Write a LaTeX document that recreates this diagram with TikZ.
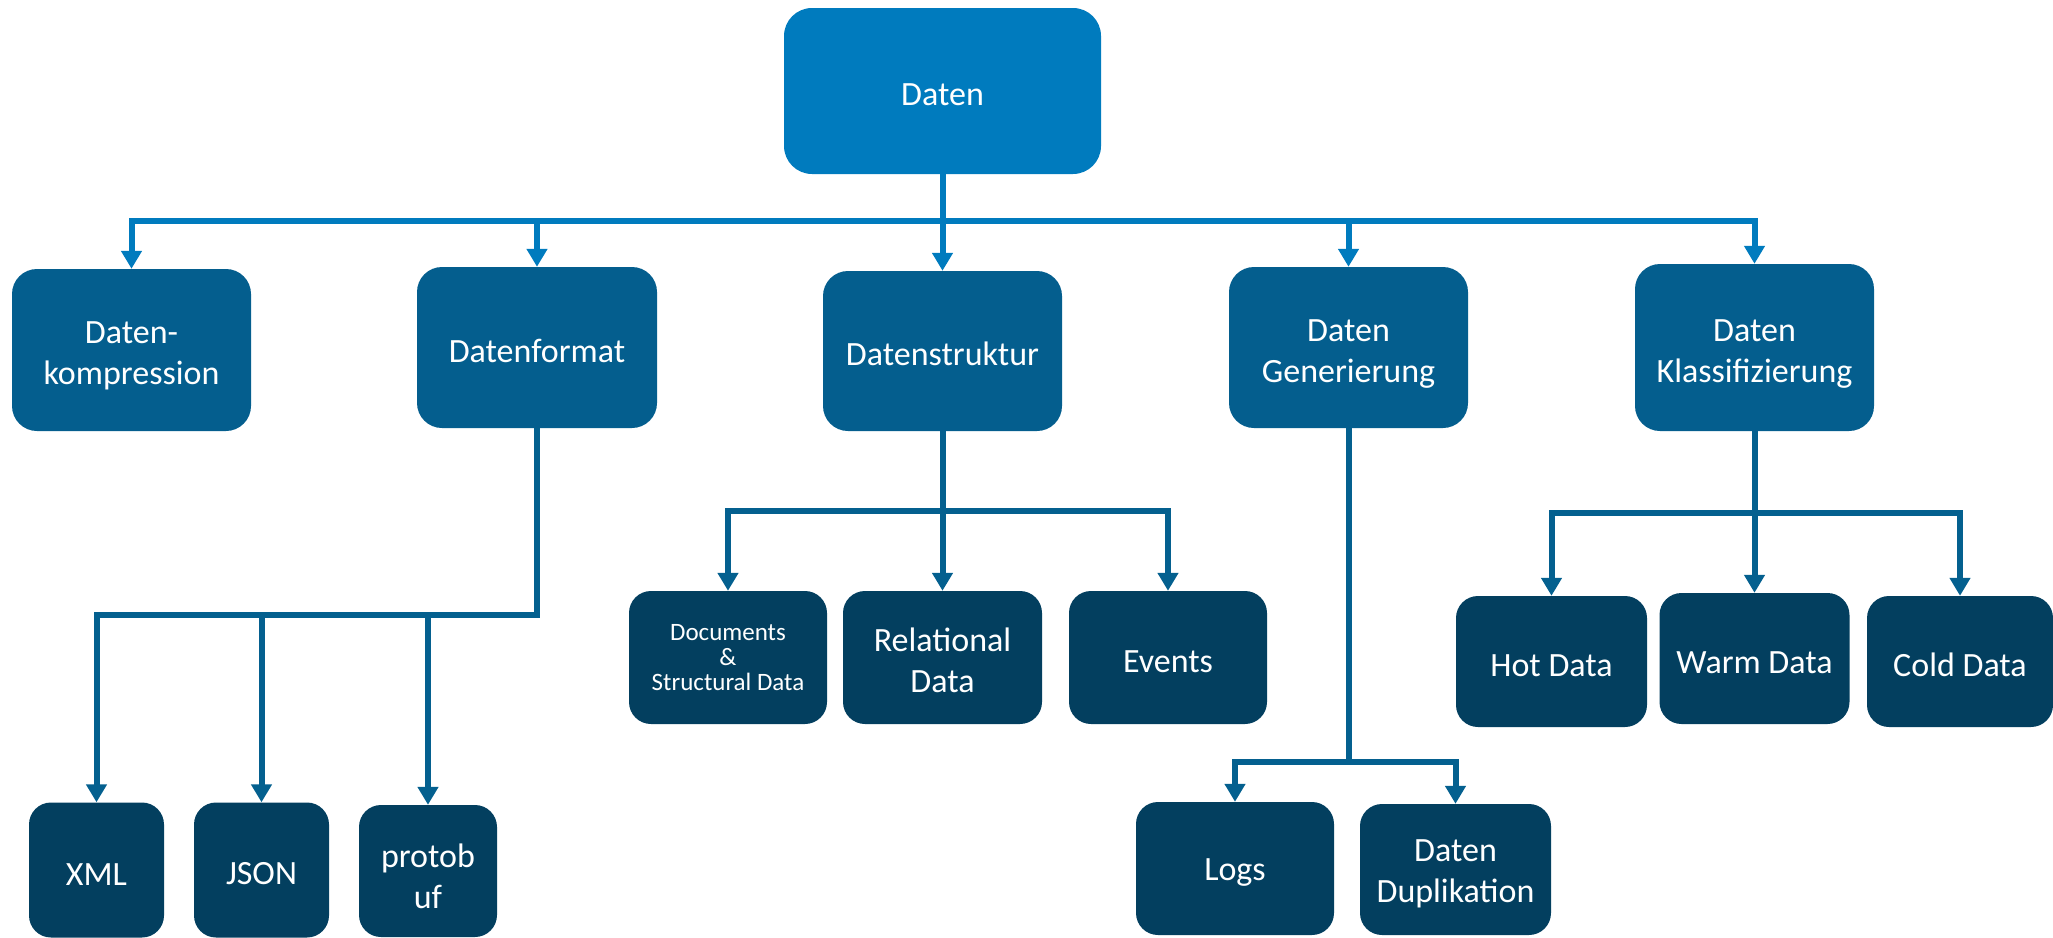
\documentclass[tikz,border=0pt]{standalone}
\usepackage{fontspec}
\setmainfont{Carlito}
\usetikzlibrary{arrows.meta}
\definecolor{rootblue}{RGB}{0,123,190}
\definecolor{midblue}{RGB}{4,94,142}
\definecolor{deepblue}{RGB}{3,63,95}
\definecolor{linkblue}{RGB}{4,96,143}
% tall invisible struts on the first line: set the text a little below the box centre
\newcommand{\toppad}{\rule{0pt}{34pt}}
\newcommand{\onepad}{\rule{0pt}{30pt}}
\tikzset{
  base/.style={rounded corners=22pt, text=white, align=center, inner sep=0pt,
    font=\fontsize{34}{41}\selectfont},
  rootbox/.style={base, fill=rootblue, rounded corners=28pt},
  midbox/.style={base, fill=midblue, rounded corners=25pt},
  leafbox/.style={base, fill=deepblue},
  topconn/.style={draw=rootblue, line width=6pt, line join=miter,
    -{Triangle[length=18pt,width=20pt]}},
  subconn/.style={draw=linkblue, line width=6pt, line join=miter,
    -{Triangle[length=18pt,width=20pt]}},
}
\begin{document}
\begin{tikzpicture}[x=1pt,y=-1pt]
\useasboundingbox (0,0) rectangle (2053,937);

% top level
\node[rootbox, minimum width=317pt, minimum height=166pt] (root) at (942.5,91) {\onepad Daten};

% second level
\node[midbox, minimum width=239pt, minimum height=162pt] (komp) at (131.5,350) {\toppad Daten-\\kompression};
\node[midbox, minimum width=240pt, minimum height=161pt] (format) at (537,347.5) {\onepad Datenformat};
\node[midbox, minimum width=239pt, minimum height=160pt] (struktur) at (942.5,351) {\onepad Datenstruktur};
\node[midbox, minimum width=239pt, minimum height=161pt] (gen) at (1348.5,347.5) {\toppad Daten\\Generierung};
\node[midbox, minimum width=239pt, minimum height=167pt] (klass) at (1754.5,347.5) {\toppad Daten\\Klassifizierung};

% third level
\node[leafbox, minimum width=135pt, minimum height=135pt] (xml) at (96.5,870) {\onepad XML};
\node[leafbox, minimum width=135pt, minimum height=135pt] (json) at (261.5,870) {\onepad JSON};
\node[leafbox, minimum width=138pt, minimum height=132pt] (proto) at (428,871) {\toppad protob\\uf};
\node[leafbox, minimum width=198pt, minimum height=133pt,
  font=\fontsize{25}{25}\selectfont] (docs) at (728,657.5) {Documents\\\&\\Structural Data};
\node[leafbox, minimum width=199pt, minimum height=133pt] (rel) at (942.5,657.5) {\onepad Relational\\Data};
\node[leafbox, minimum width=198pt, minimum height=133pt] (events) at (1168,657.5) {\onepad Events};
\node[leafbox, minimum width=198pt, minimum height=133pt] (logs) at (1235,868.5) {\onepad Logs};
\node[leafbox, minimum width=191pt, minimum height=131pt] (dup) at (1455.5,869.5) {\onepad Daten\\Duplikation};
\node[leafbox, minimum width=191pt, minimum height=131pt] (hot) at (1551.5,661.5) {\onepad Hot Data};
\node[leafbox, minimum width=190pt, minimum height=131pt] (warm) at (1754.5,658.5) {\onepad Warm Data};
\node[leafbox, minimum width=186pt, minimum height=131pt] (cold) at (1960,661.5) {\onepad Cold Data};

% bus heights
\coordinate (bustop) at (0,221);
\coordinate (busformat) at (0,615);
\coordinate (busstruktur) at (0,511);
\coordinate (busgen) at (0,762);
\coordinate (busklass) at (0,513);

% connectors from the root
\foreach \c in {komp,format,struktur,gen,klass}
  \draw[topconn] (root.south) -- (root.south |- bustop) -| (\c.north);

% connectors below Datenformat
\foreach \c in {xml,json,proto}
  \draw[subconn] (format.south) -- (format.south |- busformat) -| (\c.north);

% connectors below Datenstruktur
\foreach \c in {docs,rel,events}
  \draw[subconn] (struktur.south) -- (struktur.south |- busstruktur) -| (\c.north);

% connectors below Daten Generierung
\foreach \c in {logs,dup}
  \draw[subconn] (gen.south) -- (gen.south |- busgen) -| (\c.north);

% connectors below Daten Klassifizierung
\foreach \c in {hot,warm,cold}
  \draw[subconn] (klass.south) -- (klass.south |- busklass) -| (\c.north);
\end{tikzpicture}
\end{document}
